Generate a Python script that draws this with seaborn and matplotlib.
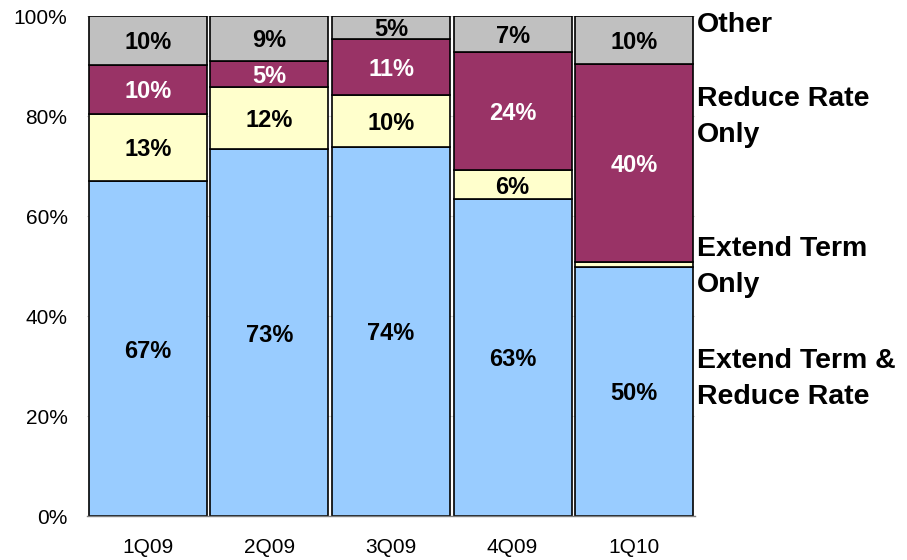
import matplotlib
matplotlib.use("Agg")
import matplotlib.pyplot as plt
import matplotlib.transforms as mtransforms
import seaborn as sns
import pandas as pd
import numpy as np

# ---- data ----
quarters = ["1Q09", "2Q09", "3Q09", "4Q09", "1Q10"]
extend_and_reduce = [67.0, 73.4, 73.8, 63.4, 49.8]
extend_only = [13.4, 12.4, 10.4, 5.8, 1.0]
reduce_only = [9.8, 5.2, 11.2, 23.6, 39.6]
other = [9.8, 9.0, 4.6, 7.2, 9.6]
series_names = ["Extend Term &\nReduce Rate", "Extend Term\nOnly",
                "Reduce Rate\nOnly", "Other"]
y_ticks = [0, 20, 40, 60, 80, 100]

# ---- styling ----
sns.set_style("white")
plt.rcParams['font.family'] = ['Liberation Sans', 'DejaVu Sans']
plt.rcParams['text.color'] = 'black'

colors = ["#99CCFF", "#FFFFCC", "#993366", "#C0C0C0"]
text_colors = ["black", "black", "white", "black"]
legend_y = [27.3, 49.7, 79.7, 98.3]

fig = plt.figure(figsize=(9.07, 5.60), dpi=100)
ax = fig.add_axes([87 / 907, 1 - 516 / 560, 608 / 907, 500 / 560])

series = [extend_and_reduce, extend_only, reduce_only, other]
bottom = np.zeros(len(quarters))
for vals, col, tc in zip(series, colors, text_colors):
    df = pd.DataFrame({"quarter": quarters, "value": vals})
    sns.barplot(data=df, x="quarter", y="value", order=quarters, color=col,
                saturation=1, bottom=bottom, width=0.97, edgecolor="black",
                linewidth=1.2, errorbar=None, ax=ax, zorder=2)
    for i, v in enumerate(vals):
        if v >= 3:
            ax.text(i, bottom[i] + v / 2, f"{round(v)}%", ha="center",
                    va="center_baseline", color=tc, fontsize=17,
                    fontweight="bold", zorder=5)
    bottom = bottom + np.array(vals)

ax.set_xlim(-0.5, len(quarters) - 0.5)
ax.set_ylim(0, 100)
ax.set_yticks(y_ticks)
ax.set_yticklabels([f"{t}%" for t in y_ticks])
ax.set_xlabel("")
ax.set_ylabel("")

ax.set_axisbelow(True)
ax.yaxis.grid(True, color="#d9d9d9", linewidth=0.8)
ax.xaxis.grid(False)

ax.tick_params(axis="y", length=0, pad=14, labelsize=15, colors="black")
ax.tick_params(axis="x", which="major", length=0, pad=16, labelsize=15,
               colors="black")
ax.set_xticks(np.arange(-0.5, len(quarters), 1.0), minor=True)
ax.tick_params(axis="x", which="minor", length=5, width=1, color="#808080")

for s in ["top", "right", "left"]:
    ax.spines[s].set_visible(False)
ax.spines["bottom"].set_color("#808080")
ax.spines["bottom"].set_linewidth(1)

trans = mtransforms.blended_transform_factory(ax.transAxes, ax.transData)
for name, y in zip(series_names, legend_y):
    ax.text(1.003, y, name, transform=trans, ha="left", va="center",
            fontsize=20.5, fontweight="bold", linespacing=1.5,
            color="black", clip_on=False)

fig.savefig("out.png", dpi=100)
